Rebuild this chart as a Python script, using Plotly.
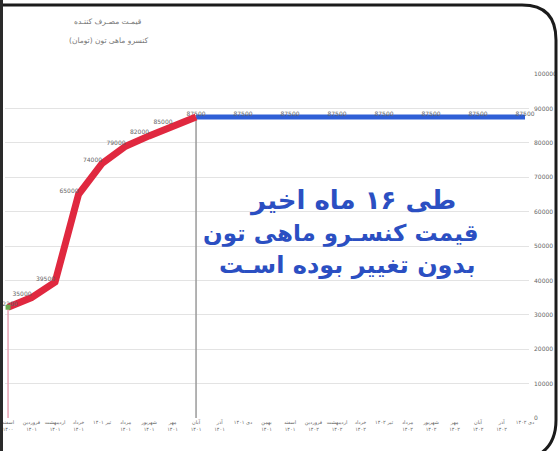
import plotly.graph_objects as go

# ---- data ----
months = [
    "اسفند<br>۱۴۰۰", "فروردین<br>۱۴۰۱", "اردیبهشت<br>۱۴۰۱", "خرداد<br>۱۴۰۱",
    "تیر ۱۴۰۱", "مرداد<br>۱۴۰۱", "شهریور<br>۱۴۰۱", "مهر<br>۱۴۰۱",
    "آبان<br>۱۴۰۱", "آذر<br>۱۴۰۱", "دی ۱۴۰۱", "بهمن<br>۱۴۰۱",
    "اسفند<br>۱۴۰۱", "فروردین<br>۱۴۰۲", "اردیبهشت<br>۱۴۰۲", "خرداد<br>۱۴۰۲",
    "تیر ۱۴۰۲", "مرداد<br>۱۴۰۲", "شهریور<br>۱۴۰۲", "مهر<br>۱۴۰۲",
    "آبان<br>۱۴۰۲", "آذر<br>۱۴۰۲", "دی ۱۴۰۲",
]
rising_prices = [32200, 35000, 39500, 65000, 74000, 79000, 82000, 85000, 87500]
flat_prices = [87500] * 15
y_ticks = list(range(0, 100001, 10000))

title_lines = ["قیمـت مصـرف کننـده", "کنسرو ماهی تون (تومان)"]
message_lines = ["طی ۱۶ ماه اخیر", "قیمت کنسـرو ماهی تون", "بدون تغییر بوده اسـت"]

rise_x = months[:len(rising_prices)]
flat_x = months[len(rising_prices) - 1:]

W, H = 559, 451
ML, MR, MT, MB = 5, 30, 74, 33
PW, PH = W - ML - MR, H - MT - MB


def px(xp):
    return (xp - ML) / PW


def py(yp):
    return (H - MB - yp) / PH


AR = "DejaVu Sans"
fig = go.Figure()

# drop lines
fig.add_trace(go.Scatter(x=[rise_x[0], rise_x[0]], y=[0, rising_prices[0]], mode="lines",
                         line=dict(color="#e7a3b3", width=1.5), hoverinfo="skip", showlegend=False))
fig.add_trace(go.Scatter(x=[rise_x[-1], rise_x[-1]], y=[0, rising_prices[-1]], mode="lines",
                         line=dict(color="#9a9a9a", width=1.5), hoverinfo="skip", showlegend=False))

# flat (blue) series
flat_text = [str(v) if i % 2 == 0 else "" for i, v in enumerate(flat_prices)]
fig.add_trace(go.Scatter(x=flat_x, y=flat_prices, mode="lines+text", text=flat_text,
                         textposition="top center", textfont=dict(size=6, color="#666", family=AR),
                         line=dict(color="#2f5fd6", width=5), showlegend=False, cliponaxis=False))

# rising (red) series
rise_text = [str(v) for v in rising_prices[:-1]] + [""]
rise_pos = ["top center"] + ["top left"] * (len(rising_prices) - 1)
fig.add_trace(go.Scatter(x=rise_x, y=rising_prices, mode="lines+text", text=rise_text,
                         textposition=rise_pos, textfont=dict(size=6, color="#666", family=AR),
                         line=dict(color="#e0283f", width=7), showlegend=False, cliponaxis=False))

# small green marker at the start
fig.add_trace(go.Scatter(x=[rise_x[0]], y=[rising_prices[0]], mode="markers",
                         marker=dict(color="#6aa84f", size=5, symbol="square"),
                         showlegend=False, hoverinfo="skip", cliponaxis=False))

annotations = []
for i, t in enumerate(title_lines):
    annotations.append(dict(text=t, x=px(108), y=py(22 + i * 18), xref="paper", yref="paper",
                            xanchor="center", yanchor="middle",
                            showarrow=False, font=dict(size=7.5, color="#777", family=AR)))
for t, xx, yy, fs in zip(message_lines, [352, 341, 347], [200, 233, 265], [26, 23, 24]):
    annotations.append(dict(text="<b>" + t + "</b>", x=px(xx), y=py(yy), xref="paper", yref="paper",
                            xanchor="center", yanchor="middle",
                            showarrow=False, font=dict(size=fs, color="#2b4fc2", family=AR)))

# frame
frame_top = (f"M {px(0)} {py(5)} L {px(522)} {py(5)} "
             f"Q {px(556)} {py(5)} {px(556)} {py(40)} "
             f"L {px(556)} {py(420)} Q {px(556)} {py(445)} {px(538)} {py(455)}")
shapes = [
    dict(type="path", path=frame_top, xref="paper", yref="paper",
         line=dict(color="#1b1b1b", width=3)),
    dict(type="line", x0=px(1.5), x1=px(1.5), y0=py(0), y1=py(451), xref="paper", yref="paper",
         line=dict(color="#2a2a2a", width=3)),
]

fig.update_layout(
    width=W, height=H,
    margin=dict(l=ML, r=MR, t=MT, b=MB, autoexpand=False),
    paper_bgcolor="white", plot_bgcolor="white",
    annotations=annotations, shapes=shapes,
    font=dict(family=AR),
)
fig.update_xaxes(type="category", categoryorder="array", categoryarray=months,
                 range=[-0.13, 22.17], showgrid=False, zeroline=False, showline=False,
                 tickangle=0, tickfont=dict(size=5, color="#666", family=AR), ticks="",
                 automargin=False)
fig.update_yaxes(side="right", range=[0, 100000], tickvals=y_ticks, tickformat="d",
                 showgrid=True, gridcolor="#e3e3e3", gridwidth=1, zeroline=False,
                 tickfont=dict(size=6, color="#666", family=AR), ticklabelstandoff=4,
                 automargin=False)

fig.write_html("out.html", config={"displayModeBar": False},
               post_script="document.body.style.margin='0';document.body.style.overflow='hidden';")
